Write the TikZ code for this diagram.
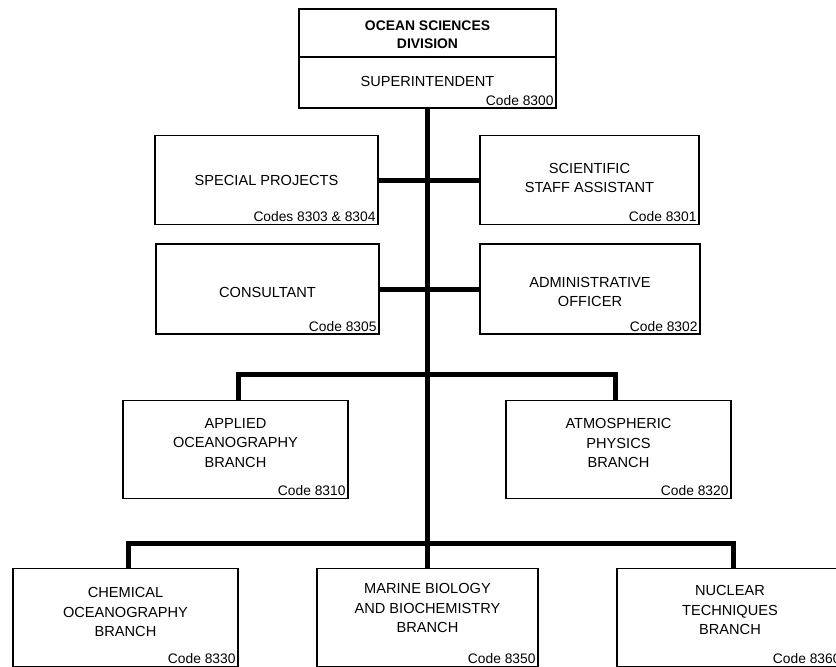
\documentclass[tikz,border=0pt]{standalone}
\usepackage{fontspec}
\setmainfont{Liberation Sans}
\begin{document}
\begin{tikzpicture}[x=1pt,y=-1pt,
  box/.style={draw=black, line width=1.4pt, rectangle, inner sep=0pt},
  boxline/.style={draw=black, line width=1.4pt},
  title/.style={align=center, font=\fontsize{14.6}{19.5}\selectfont, inner sep=0pt},
  codetxt/.style={font=\fontsize{13.8}{15}\selectfont, inner sep=3pt, anchor=south east},
  conn/.style={draw=black, line width=5pt, line join=miter}]
\useasboundingbox (0,0) rectangle (836,667);
\fill[white] (0,0) rectangle (836,667);

% boxes
\node[box, minimum width=257pt, minimum height=99pt] (top) at (427.5,58.5) {};
\node[box, minimum width=223pt, minimum height=89pt] (sp) at (266.5,180) {};
\node[box, minimum width=219pt, minimum height=89pt] (ssa) at (589.5,180) {};
\node[box, minimum width=223pt, minimum height=90pt] (cons) at (267.5,289) {};
\node[box, minimum width=220pt, minimum height=90pt] (adm) at (590,289) {};
\node[box, minimum width=225pt, minimum height=98pt] (app) at (235.5,449.5) {};
\node[box, minimum width=225pt, minimum height=98pt] (atm) at (618.5,449.5) {};
\node[box, minimum width=225pt, minimum height=98pt] (chem) at (125.5,617.5) {};
\node[box, minimum width=221pt, minimum height=98pt] (mar) at (427.5,617.5) {};
\node[box, minimum width=226pt, minimum height=98pt] (nuc) at (730,617.5) {};

% divider in top box
\coordinate (dv) at (0,57);
\draw[boxline] (top.west |- dv) -- (top.east |- dv);

% titles
\node[title, font=\bfseries\fontsize{13.9}{17.5}\selectfont] (tT) at (427.5,34.5) {OCEAN SCIENCES\\DIVISION};
\node[title] (tS) at (427.5,81) {SUPERINTENDENT};
\node[title] (spT) at (266.5,180) {SPECIAL PROJECTS};
\node[title] (ssaT) at (589.5,178) {SCIENTIFIC\\STAFF ASSISTANT};
\node[title] (consT) at (267.5,292) {CONSULTANT};
\node[title] (admT) at (590,292) {ADMINISTRATIVE\\OFFICER};
\node[title] (appT) at (235.5,443) {APPLIED\\OCEANOGRAPHY\\BRANCH};
\node[title] (atmT) at (618.5,443) {ATMOSPHERIC\\PHYSICS\\BRANCH};
\node[title] (chemT) at (125.5,612) {CHEMICAL\\OCEANOGRAPHY\\BRANCH};
\node[title] (marT) at (427.5,608) {MARINE BIOLOGY\\AND BIOCHEMISTRY\\BRANCH};
\node[title] (nucT) at (730,610) {NUCLEAR\\TECHNIQUES\\BRANCH};

% codes
\node[codetxt] (c0) at (top.south east) {Code 8300};
\node[codetxt] (c1) at (sp.south east) {Codes 8303 \& 8304};
\node[codetxt] (c2) at (ssa.south east) {Code 8301};
\node[codetxt] (c3) at (cons.south east) {Code 8305};
\node[codetxt] (c4) at (adm.south east) {Code 8302};
\node[codetxt] (c5) at (app.south east) {Code 8310};
\node[codetxt] (c6) at (atm.south east) {Code 8320};
\node[codetxt] (c7) at (chem.south east) {Code 8330};
\node[codetxt] (c8) at (mar.south east) {Code 8350};
\node[codetxt] (c9) at (nuc.south east) {Code 8360};

% connectors
\coordinate (b1) at (427.5,374);
\coordinate (b2) at (427.5,543);
\draw[conn] (top.south) -- (mar.north);
\draw[conn] (sp.east) -- (ssa.west);
\draw[conn] (cons.east) -- (adm.west);
\draw[conn] ([xshift=2.5pt]app.north) |- (b1) -| ([xshift=-3pt]atm.north);
\draw[conn] ([xshift=2.5pt]chem.north) |- (b2) -| ([xshift=3pt]nuc.north);
\end{tikzpicture}
\end{document}
